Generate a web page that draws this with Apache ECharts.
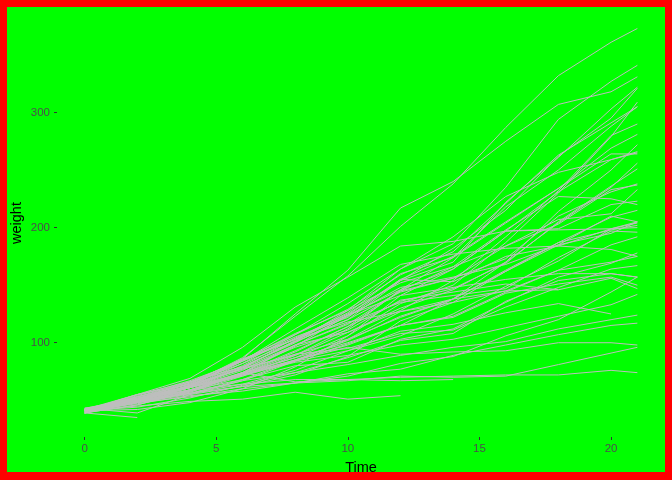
<!DOCTYPE html>
<html>
<head>
<meta charset="utf-8">
<script src="https://cdn.jsdelivr.net/npm/echarts@6/dist/echarts.min.js"></script>
<style>
  html, body { margin: 0; padding: 0; background: #ff0000; }
  #chart { position: absolute; left: 7px; top: 7px; width: 658px; height: 465px; }
</style>
</head>
<body>
<div id="chart"></div>
<script>
// ChickWeight: weight by Time, one line per chick
var times = [0, 2, 4, 6, 8, 10, 12, 14, 16, 18, 20, 21];
var xTicks = [0, 5, 10, 15, 20];
var yTicks = [100, 200, 300];

var diet1 = [
    [42, 51, 59, 64, 76, 93, 106, 125, 149, 171, 199, 205],
    [40, 49, 58, 72, 84, 103, 122, 138, 162, 187, 209, 215],
    [43, 39, 55, 67, 84, 99, 115, 138, 163, 187, 198, 202],
    [42, 49, 56, 67, 74, 87, 102, 108, 136, 154, 160, 157],
    [41, 42, 48, 60, 79, 106, 141, 164, 197, 199, 220, 223],
    [41, 49, 59, 74, 97, 124, 141, 148, 155, 160, 160, 157],
    [41, 49, 57, 71, 89, 112, 146, 174, 218, 250, 288, 305],
    [42, 50, 61, 71, 84, 93, 110, 116, 126, 134, 125],
    [42, 51, 59, 68, 85, 96, 90, 92, 93, 100, 100, 98],
    [41, 44, 52, 63, 74, 81, 89, 96, 101, 112, 120, 124],
    [43, 51, 63, 84, 112, 139, 168, 177, 182, 184, 181, 175],
    [41, 49, 56, 62, 72, 88, 119, 135, 162, 185, 195, 205],
    [41, 48, 53, 60, 65, 67, 71, 70, 71, 81, 91, 96],
    [41, 49, 62, 79, 101, 128, 164, 192, 227, 248, 259, 266],
    [41, 49, 56, 64, 68, 68, 67, 68],
    [41, 45, 49, 51, 57, 51, 54],
    [42, 51, 61, 72, 83, 89, 98, 103, 113, 123, 133, 142],
    [39, 35],
    [43, 48, 55, 62, 65, 71, 82, 88, 106, 120, 144, 157],
    [41, 47, 54, 58, 65, 73, 77, 89, 98, 107, 115, 117]
];
var diet2 = [
    [40, 50, 62, 86, 125, 163, 217, 240, 275, 307, 318, 331],
    [41, 55, 64, 77, 90, 95, 108, 111, 131, 148, 164, 167],
    [43, 52, 61, 73, 90, 103, 127, 135, 145, 163, 170, 175],
    [42, 52, 58, 74, 66, 68, 70, 71, 72, 72, 76, 74],
    [40, 49, 62, 78, 102, 124, 146, 164, 197, 231, 259, 265],
    [42, 48, 57, 74, 93, 114, 136, 147, 169, 205, 236, 251],
    [39, 46, 58, 73, 87, 100, 115, 123, 144, 163, 185, 192],
    [39, 46, 58, 73, 92, 114, 145, 156, 184, 207, 212, 233],
    [39, 48, 59, 74, 87, 106, 134, 150, 187, 230, 279, 309],
    [42, 48, 59, 72, 85, 98, 115, 122, 143, 151, 157, 150]
];
var diet3 = [
    [42, 53, 62, 73, 85, 102, 123, 138, 170, 204, 235, 256],
    [41, 49, 65, 82, 107, 129, 159, 179, 221, 263, 291, 305],
    [39, 50, 63, 77, 96, 111, 137, 144, 151, 146, 156, 147],
    [41, 49, 63, 85, 107, 134, 164, 186, 235, 294, 327, 341],
    [41, 53, 64, 87, 123, 158, 201, 238, 287, 332, 361, 373],
    [39, 48, 61, 76, 98, 116, 145, 166, 198, 227, 225, 220],
    [41, 48, 56, 68, 80, 83, 103, 112, 135, 157, 169, 178],
    [41, 49, 61, 74, 98, 109, 128, 154, 192, 232, 280, 290],
    [42, 50, 61, 78, 89, 109, 130, 146, 170, 214, 250, 272],
    [41, 55, 66, 79, 101, 120, 154, 182, 215, 262, 295, 321]
];
var diet4 = [
    [42, 51, 66, 85, 103, 124, 155, 153, 175, 184, 199, 204],
    [42, 49, 63, 84, 103, 126, 160, 174, 204, 234, 269, 281],
    [42, 55, 69, 96, 131, 157, 184, 188, 197, 198, 199, 200],
    [42, 51, 65, 86, 103, 118, 127, 138, 145, 146],
    [41, 50, 61, 78, 98, 117, 135, 141, 147, 174, 197, 196],
    [40, 52, 62, 82, 101, 120, 144, 156, 173, 210, 231, 238],
    [41, 53, 66, 79, 100, 123, 148, 157, 168, 185, 210, 205],
    [39, 50, 62, 80, 104, 125, 154, 170, 222, 261, 303, 322],
    [40, 53, 64, 85, 108, 128, 152, 166, 184, 203, 233, 237],
    [41, 54, 67, 84, 105, 122, 155, 175, 205, 234, 264, 264]
];

var chicks = diet1.concat(diet2, diet3, diet4);
var series = chicks.map(function (w, i) {
    return {
        name: 'Chick ' + (i + 1),
        type: 'line',
        showSymbol: false,
        silent: true,
        animation: false,
        lineStyle: {color: '#bebebe', width: 1},
        data: w.map(function (v, j) { return [times[j], v]; })
    };
});

var chart = echarts.init(document.getElementById('chart'));
chart.setOption({
    backgroundColor: '#00ff00',
    animation: false,
    grid: {left: 50, right: 0, top: 2, bottom: 35, containLabel: false, outerBoundsMode: 'none'},
    xAxis: {
        type: 'value', min: -1.05, max: 22.05,
        name: 'Time', nameLocation: 'middle', nameGap: 23, nameMoveOverlap: false,
        nameTextStyle: {color: '#000', fontSize: 14.5, fontFamily: 'Liberation Sans'},
        splitLine: {show: false},
        axisLine: {show: false, onZero: false},
        axisTick: {show: true, length: 3, customValues: xTicks, lineStyle: {color: '#333333', width: 1}},
        axisLabel: {customValues: xTicks, color: '#4d4d4d', fontSize: 11.5, margin: 6, fontFamily: 'Liberation Sans'}
    },
    yAxis: {
        type: 'value', min: 18.1, max: 389.9,
        name: 'weight', nameLocation: 'middle', nameGap: 33, nameRotate: 90, nameMoveOverlap: false,
        nameTextStyle: {color: '#000', fontSize: 14.5, fontFamily: 'Liberation Sans'},
        splitLine: {show: false},
        axisLine: {show: false, onZero: false},
        axisTick: {show: true, length: 3, customValues: yTicks, lineStyle: {color: '#333333', width: 1}},
        axisLabel: {customValues: yTicks, color: '#4d4d4d', fontSize: 11.5, margin: 7, fontFamily: 'Liberation Sans'}
    },
    series: series
});
</script>
</body>
</html>
